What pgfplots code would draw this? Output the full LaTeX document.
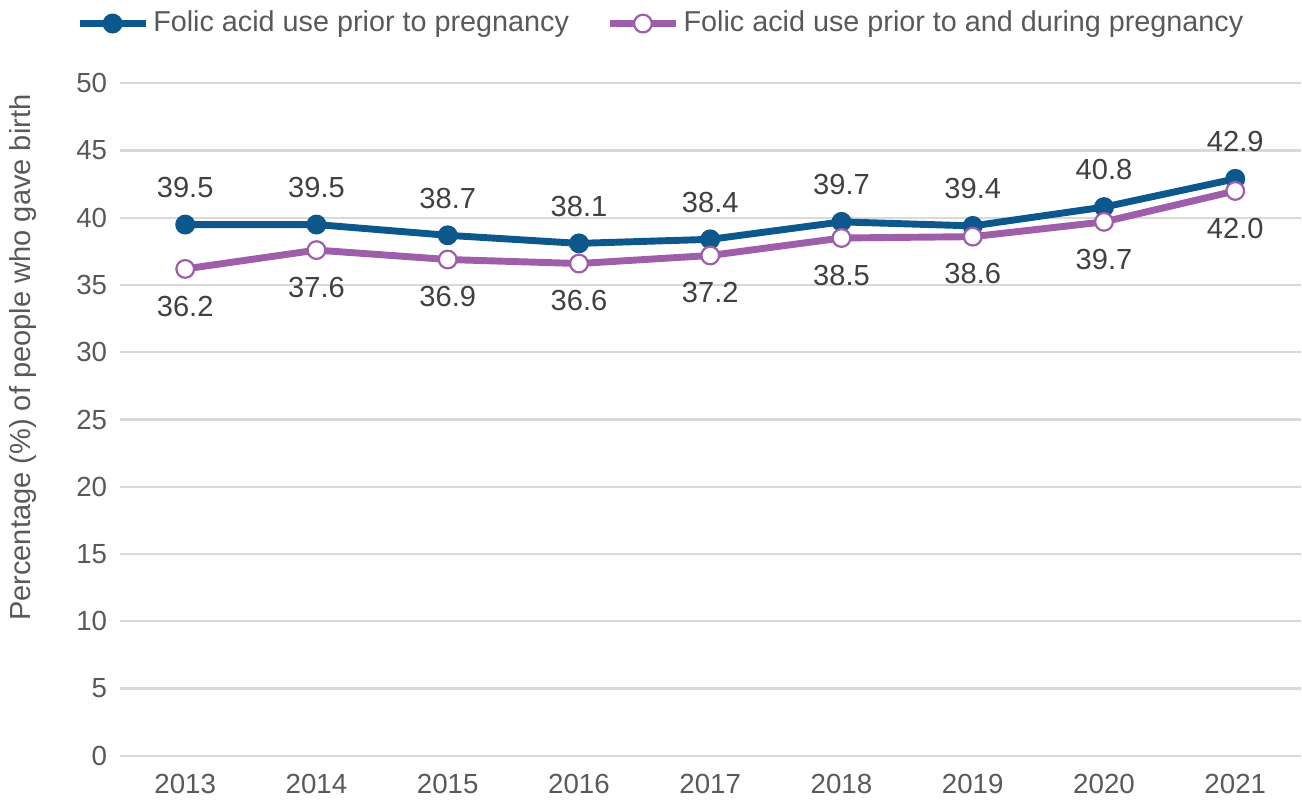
\documentclass[border=0pt]{standalone}
\usepackage{pgfplots}
\pgfplotsset{compat=1.18}
\usepackage{fontspec}
\setmainfont{Liberation Sans}
\definecolor{folicblue}{RGB}{12,88,140}
\definecolor{folicpurple}{RGB}{158,94,170}
\definecolor{gridgray}{RGB}{217,217,217}
\definecolor{textgray}{RGB}{89,89,89}
\definecolor{labelgray}{RGB}{64,64,64}
\begin{document}
\begin{tikzpicture}
\begin{axis}[
    scale only axis,
    width=427pt, height=243pt,
    xmin=-0.5, xmax=8.5,
    ymin=0, ymax=50,
    xtick={0,...,8},
    xticklabels={2013,2014,2015,2016,2017,2018,2019,2020,2021},
    ytick={0,5,...,50},
    ymajorgrids,
    grid style={gridgray, line width=0.8pt},
    axis line style={draw=none},
    major tick length=0pt,
    tick label style={font=\fontsize{10}{12}\selectfont, text=textgray},
    /pgf/number format/assume math mode=true,
    xticklabel style={yshift=-3pt},
    yticklabel style={xshift=-1pt},
    ylabel={Percentage (\%) of people who gave birth},
    every axis y label/.style={at={([xshift=-35pt]rel axis cs:0,0.592)}, rotate=90, anchor=center,
        font=\fontsize{10.5}{12}\selectfont, text=textgray},
    legend columns=2,
    legend style={draw=none, fill=none, at={(0.459,1.089)}, anchor=center,
        font=\fontsize{10.4}{12}\selectfont, text=textgray,
        nodes={inner xsep=1.5pt},
        /tikz/every even column/.append style={column sep=12pt}},
    legend image code/.code={\draw[mark repeat=2,mark phase=2] plot coordinates {(0cm,0cm)(0.42cm,0cm)(0.84cm,0cm)};},
    nodes near coords={\pgfmathprintnumber[fixed,fixed zerofill,precision=1,assume math mode=true]{\pgfplotspointmeta}},
    every node near coord/.append style={font=\fontsize{10.5}{12}\selectfont, text=labelgray},
]
\addplot[folicblue, line width=2.5pt, mark=*, mark size=3.2pt,
    mark options={fill=folicblue, draw=folicblue, line width=0.8pt},
    every node near coord/.append style={anchor=south, yshift=6pt}]
    coordinates {(0,39.5)(1,39.5)(2,38.7)(3,38.1)(4,38.4)(5,39.7)(6,39.4)(7,40.8)(8,42.9)};
\addlegendentry{Folic acid use prior to pregnancy}
\addplot[folicpurple, line width=2.5pt, mark=*, mark size=3.2pt,
    mark options={fill=white, draw=folicpurple, line width=0.8pt},
    every node near coord/.append style={anchor=north, yshift=-6pt}]
    coordinates {(0,36.2)(1,37.6)(2,36.9)(3,36.6)(4,37.2)(5,38.5)(6,38.6)(7,39.7)(8,42.0)};
\addlegendentry{Folic acid use prior to and during pregnancy}
\end{axis}
\end{tikzpicture}
\end{document}
